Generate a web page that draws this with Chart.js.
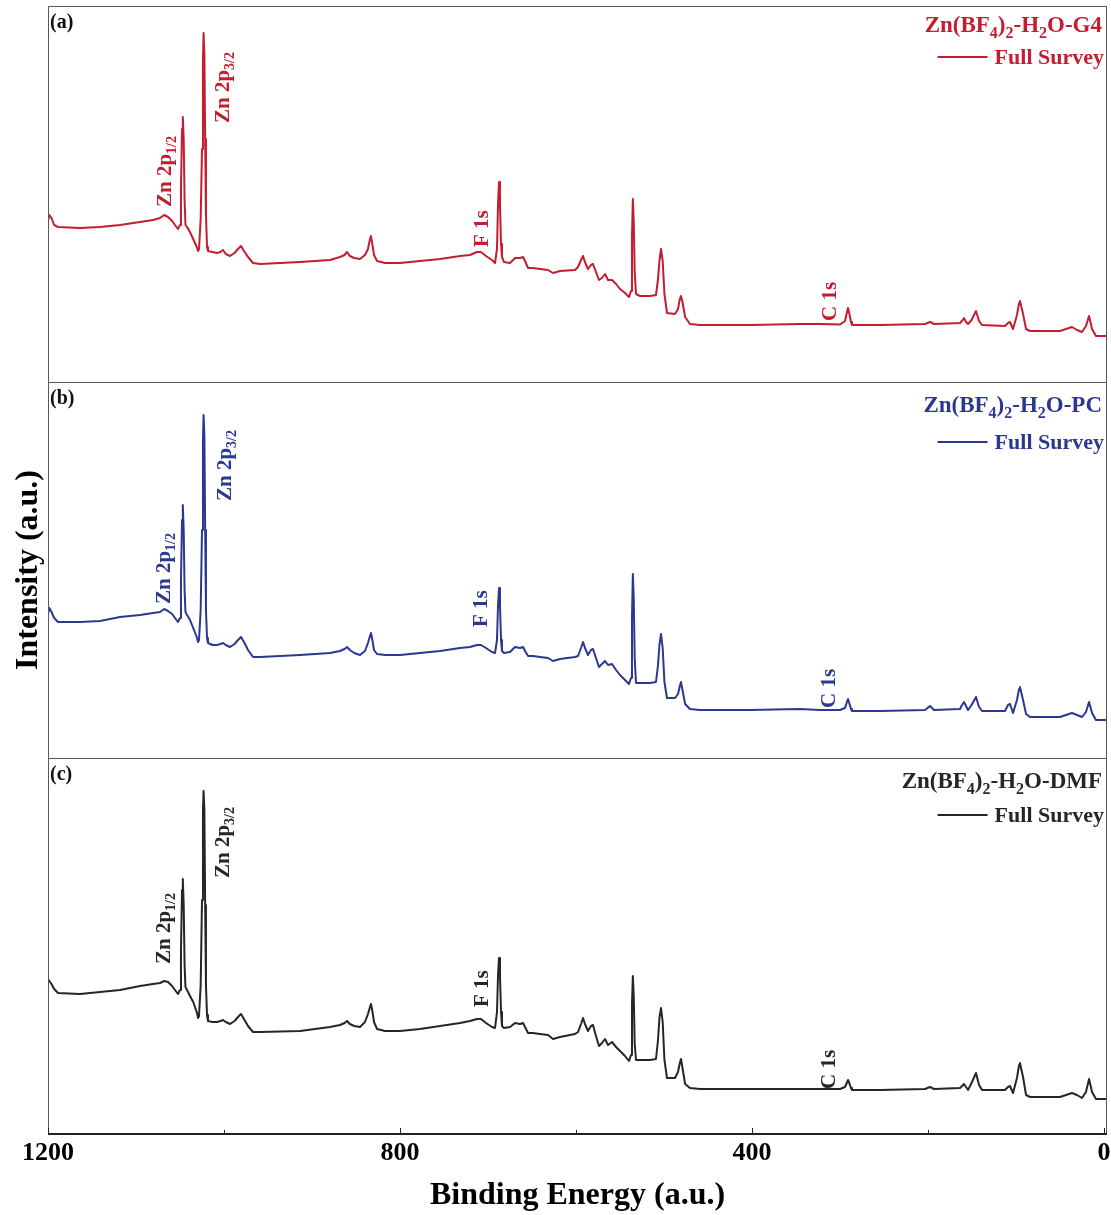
<!DOCTYPE html>
<html>
<head>
<meta charset="utf-8">
<script src="https://cdn.jsdelivr.net/npm/chart.js@4"></script>
<style>
  html, body { margin: 0; padding: 0; background: #fff; }
  #wrap { width: 1111px; height: 1215px; position: relative; }
</style>
</head>
<body>
<div id="wrap"><canvas id="xps"></canvas></div>
<script>
// Binding energy grid (eV), shared by the three survey scans
const energy = [
  1200, 1198.5, 1196, 1193, 1188.6, 1163.6, 1140.9, 1118.2, 1095.5, 1080.7,
  1072.7, 1068, 1063.6, 1059, 1055.7, 1052.3, 1050, 1048.9, 1047.7, 1046.8,
  1045.8, 1044.8, 1043.8, 1042, 1038.6, 1035, 1031, 1029.5, 1028.4, 1026.5,
  1025, 1023.9, 1023.2, 1022.3, 1021.4, 1020.5, 1019.3, 1018.2, 1013, 1008,
  1004, 1001.1, 998, 993.2, 988, 984.1, 980.7, 977.3, 972.7, 967,
  959, 913.6, 879.5, 868.2, 863, 860.2, 857, 852, 845.5, 839.8,
  836.4, 834.1, 833, 831.8, 829.5, 826.1, 817, 800, 777.3, 754.5,
  731.8, 720.5, 712.5, 708, 702.3, 695.5, 692, 689.8, 688.6, 687.5,
  686.4, 685.2, 684.1, 681.8, 675, 669.3, 663.6, 660.2, 657.9, 654.5,
  648.9, 640.9, 631.8, 626.1, 618.2, 601.1, 597.7, 594.3, 592, 589.8,
  586.4, 583, 580.7, 577.3, 573.9, 570.5, 567, 563.6, 559.1, 554.5,
  550, 544.3, 539.8, 537.5, 536.4, 535.4, 534.4, 533.3, 531.8, 527.3,
  515.9, 509.1, 506.8, 505.2, 503.4, 501.5, 499.5, 496.6, 487.5, 484.1,
  482, 480.7, 479, 476, 470.5, 459.1, 402.3, 345.5, 322.7, 300,
  294.3, 291.8, 290.9, 289.5, 287.5, 286.4, 254.5, 203.4, 197.7, 193.2,
  163.6, 161.4, 159.1, 156.8, 154.5, 150.5, 145.5, 142, 138.6, 112.5,
  109.1, 106.8, 103.4, 98.9, 96.5, 95.5, 92, 88.6, 84.1, 50,
  43.2, 36.4, 30.7, 25, 20.5, 17, 13.6, 9.1, -3.4
];

// (a) Zn(BF4)2-H2O-G4
const intensityG4 = [
  161, 167, 164, 157, 155, 154, 155, 157, 160, 162,
  164, 167, 165, 161, 157, 153, 157, 193, 253, 265,
  243, 183, 157, 155, 150, 143, 135, 131, 133, 163,
  233, 323, 349, 328, 243, 168, 135, 131, 130, 129,
  130, 132, 128, 126, 129, 133, 136, 131, 125, 119,
  118, 120, 122, 125, 127, 130, 126, 124, 123, 127,
  133, 143, 146, 140, 127, 121, 119, 119, 121, 123,
  126, 127, 130, 130, 126, 122, 119, 133, 178, 200,
  178, 138, 125, 120, 119, 124, 124, 125, 121, 114,
  114, 113, 112, 109, 111, 112, 115, 122, 126, 120,
  113, 117, 118, 110, 102, 104, 108, 102, 102, 98,
  93, 89, 85, 91, 145, 183, 160, 110, 88, 86,
  86, 87, 103, 121, 133, 121, 88, 69, 68, 73,
  83, 86, 80, 65, 58, 57, 57, 58, 58, 57.5,
  61, 71, 74, 69, 60, 57, 57, 58, 60, 58,
  59, 61, 64, 60, 58, 62, 71, 61, 57, 56,
  59, 60, 53, 67, 79, 81, 68, 53, 51, 51,
  53, 55, 52, 50, 56, 66, 53, 46, 46
];

// (b) Zn(BF4)2-H2O-PC
const intensityPC = [
  144, 150, 146, 140, 136, 136, 137, 141, 143, 145,
  146, 149, 147, 144, 140, 136, 140, 178, 238, 253,
  228, 168, 146, 143, 138, 130, 121, 116, 118, 148,
  228, 318, 343, 323, 228, 148, 120, 115, 113, 113,
  114, 115, 113, 111, 114, 118, 121, 116, 108, 101,
  101, 103, 105, 107, 109, 111, 108, 105, 103, 107,
  115, 122, 125, 120, 108, 104, 103, 103, 105, 107,
  110, 111, 113, 113, 110, 106, 105, 118, 153, 170,
  153, 118, 107, 105, 106, 111, 110, 111, 107, 102,
  102, 101, 100, 97, 99, 101, 102, 110, 116, 110,
  103, 108, 109, 100, 91, 94, 97, 93, 94, 88,
  83, 78, 74, 80, 140, 184, 160, 100, 75, 75,
  75, 76, 93, 113, 124, 110, 76, 60, 60, 64,
  72, 76, 68, 54, 49, 48, 48, 49, 48, 48,
  50, 57, 59, 55, 49, 47, 47, 48, 52, 48,
  49, 53, 56, 52, 48, 53, 61, 51, 47, 47,
  53, 54, 45, 58, 69, 71, 58, 44, 41, 41,
  43, 45, 43, 41, 46, 56, 45, 38, 38
];

// (c) Zn(BF4)2-H2O-DMF
const intensityDMF = [
  155, 153, 150, 145, 141, 140, 142, 144, 148, 150,
  151, 153, 152, 148, 144, 140, 144, 184, 244, 255,
  229, 169, 147, 144, 138, 132, 122, 116, 118, 149,
  234, 324, 343, 324, 229, 149, 119, 113, 112, 112,
  113, 114, 112, 110, 113, 117, 120, 115, 108, 102,
  102, 103, 107, 109, 111, 113, 110, 108, 107, 112,
  120, 127, 130, 125, 112, 105, 103, 103, 105, 108,
  111, 113, 115, 115, 111, 107, 106, 122, 159, 176,
  159, 122, 108, 106, 107, 111, 110, 111, 107, 101,
  101, 100, 99, 95, 97, 100, 102, 110, 116, 110,
  103, 108, 109, 98, 88, 91, 95, 89, 92, 87,
  83, 78, 73, 79, 130, 158, 138, 90, 74, 74,
  74, 75, 94, 116, 126, 112, 74, 56, 56, 62,
  71, 75, 66, 50, 46, 45, 45, 45, 45, 45,
  47, 52, 54, 51, 46, 44, 44, 45, 47, 45,
  46, 48, 50, 47, 44, 51, 61, 49, 44, 44,
  47, 48, 41, 56, 69, 71, 57, 39, 37, 37,
  39, 41, 39, 36, 42, 55, 42, 35, 35
];

const xTicks = [1200, 1000, 800, 600, 400, 200, 0];
const xMajor = [1200, 800, 400, 0];

const panelLetters = ['(a)', '(b)', '(c)'];
const panelColors = ['#c41d30', '#2a3890', '#262626'];
const panelSamples = ['G4', 'PC', 'DMF'];

// peak labels: text, subscript, and [energy, intensity] anchor per panel
const peakNames = ['Zn 2p', 'Zn 2p', 'F 1s', 'C 1s'];
const peakSubs = ['1/2', '3/2', '', ''];
const peakAnchorsG4 = [[1060, 175], [994, 259], [700, 135], [305, 61]];
const peakAnchorsPC = [[1061, 154], [992, 257], [701, 131], [306, 50]];
const peakAnchorsDMF = [[1061, 170], [994, 256], [700, 127], [306, 45]];

const SERIF = "'Liberation Serif', 'Times New Roman', serif";
Chart.defaults.font.family = SERIF;

const series = [intensityG4, intensityPC, intensityDMF];
const anchors = [peakAnchorsG4, peakAnchorsPC, peakAnchorsDMF];
const axisIds = ['ya', 'yb', 'yc'];
// legend vertical offsets inside each panel (px from panel top)
const legendOffsets = [[26, 51, 58], [30, 60, 67], [30, 57, 64]];

function fontStr(size) { return 'bold ' + size + 'px ' + SERIF; }

function drawRich(ctx, parts, x, y, size, align) {
  const subSize = Math.round(size * 0.68);
  const widths = parts.map(([t, sub]) => {
    ctx.font = fontStr(sub ? subSize : size);
    return ctx.measureText(t).width;
  });
  const total = widths.reduce((a, b) => a + b, 0);
  let cx = align === 'right' ? x - total : x;
  parts.forEach(([t, sub], i) => {
    ctx.font = fontStr(sub ? subSize : size);
    ctx.fillText(t, cx, y + (sub ? size * 0.24 : 0));
    cx += widths[i];
  });
}

const overlay = {
  id: 'overlay',
  afterDatasetsDraw(chart) {
    const { ctx, chartArea } = chart;
    const xs = chart.scales.x;
    ctx.save();
    ctx.textAlign = 'left';
    ctx.textBaseline = 'alphabetic';

    axisIds.forEach((id, i) => {
      const ys = chart.scales[id];
      const color = panelColors[i];

      // panel frame
      ctx.strokeStyle = '#5a5a5a';
      ctx.lineWidth = 1;
      ctx.strokeRect(chartArea.left + 0.5, ys.top + 0.5,
        chartArea.right - chartArea.left - 1, ys.bottom - ys.top);

      // panel letter
      ctx.fillStyle = '#111';
      ctx.font = fontStr(20);
      ctx.fillText(panelLetters[i], chartArea.left + 2, ys.top + 22);

      // legend block
      const [tOff, lOff, fOff] = legendOffsets[i];
      ctx.fillStyle = color;
      drawRich(ctx, [['Zn(BF', 0], ['4', 1], [')', 0], ['2', 1], ['-H', 0], ['2', 1],
        ['O-' + panelSamples[i], 0]], chartArea.right - 5, ys.top + tOff, 23, 'right');
      ctx.font = fontStr(22);
      const fw = ctx.measureText('Full Survey').width;
      const fx = chartArea.right - 3 - fw;
      ctx.fillText('Full Survey', fx, ys.top + fOff);
      ctx.strokeStyle = color;
      ctx.lineWidth = 2;
      ctx.beginPath();
      ctx.moveTo(fx - 57, ys.top + lOff);
      ctx.lineTo(fx - 7, ys.top + lOff);
      ctx.stroke();

      // peak labels, rotated
      anchors[i].forEach(([e, v], k) => {
        const px = xs.getPixelForValue(e);
        const py = ys.getPixelForValue(v);
        ctx.save();
        ctx.translate(px, py);
        ctx.rotate(-Math.PI / 2);
        ctx.fillStyle = color;
        const parts = [[peakNames[k], 0]];
        if (peakSubs[k]) parts.push([peakSubs[k], 1]);
        drawRich(ctx, parts, 0, 0, 21, 'left');
        ctx.restore();
      });
    });

    // bottom axis line and inward ticks
    ctx.strokeStyle = '#222';
    ctx.lineWidth = 2;
    ctx.beginPath();
    ctx.moveTo(chartArea.left, chartArea.bottom);
    ctx.lineTo(chartArea.right, chartArea.bottom);
    ctx.stroke();
    ctx.lineWidth = 1;
    xTicks.forEach(v => {
      const px = Math.round(xs.getPixelForValue(v)) + 0.5;
      const len = xMajor.includes(v) ? 6 : 4;
      ctx.beginPath();
      ctx.moveTo(px, chartArea.bottom);
      ctx.lineTo(px, chartArea.bottom - len);
      ctx.stroke();
    });
    ctx.restore();
  }
};

function yAxis(withTitle) {
  return {
    type: 'linear',
    position: 'left',
    stack: 'panels',
    stackWeight: 1,
    min: 0,
    max: 376,
    ticks: { display: false },
    grid: { display: false },
    border: { display: false },
    title: withTitle ? {
      display: true,
      text: 'Intensity (a.u.)',
      color: '#000',
      font: { size: 32, weight: 'bold' },
      padding: { top: 10, bottom: 0 }
    } : { display: false },
    afterFit: s => { s.width = 48; }
  };
}

const datasets = series.map((vals, i) => ({
  label: 'Full Survey',
  data: energy.map((e, j) => ({ x: e, y: vals[j] })),
  yAxisID: axisIds[i],
  borderColor: panelColors[i],
  borderWidth: 2,
  borderJoinStyle: 'round',
  borderCapStyle: 'round',
  pointRadius: 0,
  tension: 0,
  fill: false
}));

new Chart(document.getElementById('xps'), {
  type: 'line',
  data: { datasets },
  options: {
    responsive: true,
    maintainAspectRatio: false,
    animation: false,
    layout: { padding: { top: 6, right: 4, left: 0, bottom: 0 } },
    plugins: { legend: { display: false }, tooltip: { enabled: false } },
    scales: {
      // first defined stacked axis sits at the bottom
      yc: yAxis(false),
      yb: yAxis(true),
      ya: yAxis(false),
      x: {
        type: 'linear',
        reverse: true,
        min: -3.4,
        max: 1200,
        afterBuildTicks: s => { s.ticks = xTicks.map(v => ({ value: v })); },
        ticks: {
          callback: v => xMajor.includes(v) ? String(v) : '',
          color: '#000',
          font: { size: 26, weight: 'bold' },
          padding: 4,
          maxRotation: 0,
          autoSkip: false
        },
        grid: { display: false, drawTicks: false },
        border: { display: false },
        title: {
          display: true,
          text: 'Binding Energy (a.u.)',
          color: '#000',
          font: { size: 32, weight: 'bold' },
          padding: { top: 0, bottom: 0 }
        },
        afterFit: s => {
          s.height = 81;
          // keep the "0" label from pulling the plot edge inward
          s.paddingLeft = 0;
          s.paddingRight = 0;
        }
      }
    }
  },
  plugins: [overlay]
});
</script>
</body>
</html>
